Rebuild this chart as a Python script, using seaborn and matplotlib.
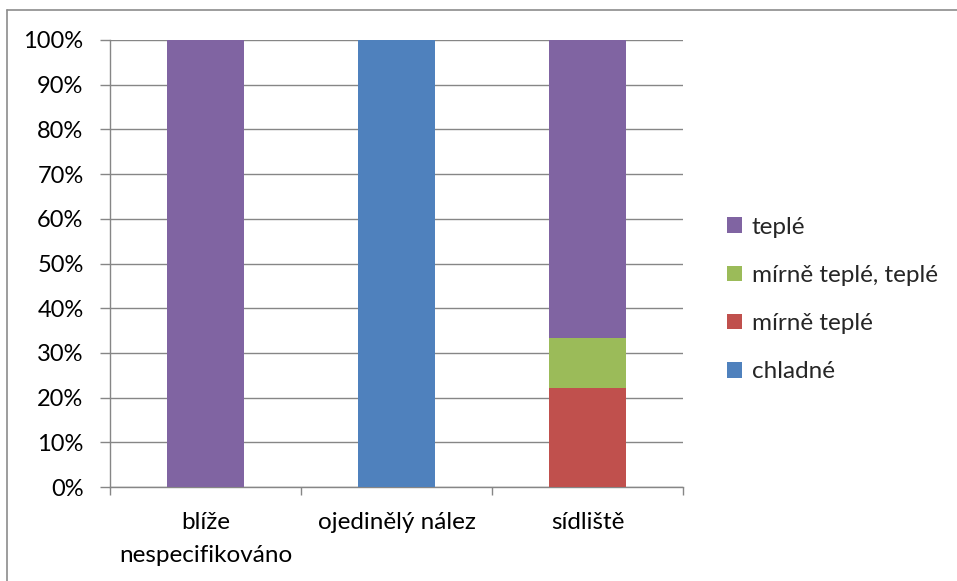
import matplotlib
matplotlib.use("Agg")
import matplotlib.pyplot as plt
from matplotlib.lines import Line2D
from matplotlib.patches import Patch
from matplotlib.ticker import FixedLocator, FuncFormatter
import pandas as pd
import seaborn as sns

# Share of finds per context type, by climate category (percent)
categories = ["blíže\nnespecifikováno", "ojedinělý nález", "sídliště"]
chladne = [0.0, 100.0, 0.0]
mirne_teple = [0.0, 0.0, 22.2]
mirne_teple_teple = [0.0, 0.0, 11.1]
teple = [100.0, 0.0, 66.7]

series_names = ["chladné", "mírně teplé", "mírně teplé, teplé", "teplé"]
series_values = [chladne, mirne_teple, mirne_teple_teple, teple]
series_colors = ["#4F81BD", "#C0504D", "#9BBB59", "#8064A2"]

sns.set_theme(style="white")
plt.rcParams["font.family"] = ["Lato", "DejaVu Sans"]

FS = 17.5
FS_Y = 17

fig = plt.figure(figsize=(9.57, 5.81), dpi=100)
ax = fig.add_axes([110 / 957, 1 - 487 / 581, 573 / 957, 447 / 581])

grid_color = "#868686"
bottom = [0.0] * len(categories)
for name, vals, col in zip(series_names, series_values, series_colors):
    df = pd.DataFrame({"cat": categories, "val": vals})
    sns.barplot(data=df, x="cat", y="val", color=col, width=0.4,
                bottom=bottom, ax=ax, zorder=3, legend=False,
                linewidth=0, saturation=1)
    bottom = [b + v for b, v in zip(bottom, vals)]

if ax.get_legend() is not None:
    ax.get_legend().remove()

ax.set_xlim(-0.5, len(categories) - 0.5)
ax.set_ylim(0, 100)
ax.set_xlabel("")
ax.set_ylabel("")

ax.yaxis.set_major_locator(FixedLocator(range(0, 101, 10)))
ax.yaxis.set_major_formatter(FuncFormatter(lambda v, p: f"{int(v)}%"))
ax.grid(axis="y", color=grid_color, linewidth=1.0, zorder=0)
ax.set_axisbelow(True)

for side in ["top", "right"]:
    ax.spines[side].set_visible(False)
for side in ["left", "bottom"]:
    ax.spines[side].set_color(grid_color)
    ax.spines[side].set_linewidth(1.0)

# Category labels centred, tick marks on the category boundaries
ax.set_xticks(range(len(categories)))
ax.set_xticklabels(categories, fontsize=FS, color="black", linespacing=1.7,
                   va="top")
ax.tick_params(axis="x", which="major", length=0, pad=18)
ax.set_xticks([i - 0.5 for i in range(len(categories) + 1)], minor=True)
ax.tick_params(axis="x", which="minor", length=6, width=1.0,
               color=grid_color, direction="out", bottom=True)
ax.tick_params(axis="y", length=7, width=1.0, color=grid_color,
               direction="out", left=True, labelsize=FS_Y, labelcolor="black",
               pad=12)

handles = [Patch(facecolor=c, edgecolor="none") for c in series_colors][::-1]
labels = series_names[::-1]
fig.legend(handles, labels, loc="upper left",
           bbox_to_anchor=(717 / 957, 1 - 207 / 581), frameon=False,
           fontsize=FS, handlelength=0.62, handleheight=0.62,
           handletextpad=0.4, labelspacing=1.12, borderaxespad=0)

# Chart-area border
fig.add_artist(Line2D([7 / 957, 1.0], [1 - 10 / 581] * 2, color="#8c8c8c",
                      linewidth=1.2, transform=fig.transFigure))
fig.add_artist(Line2D([7 / 957] * 2, [0.0, 1 - 10 / 581], color="#8c8c8c",
                      linewidth=1.2, transform=fig.transFigure))

fig.savefig("out.png", dpi=100, facecolor="white")
